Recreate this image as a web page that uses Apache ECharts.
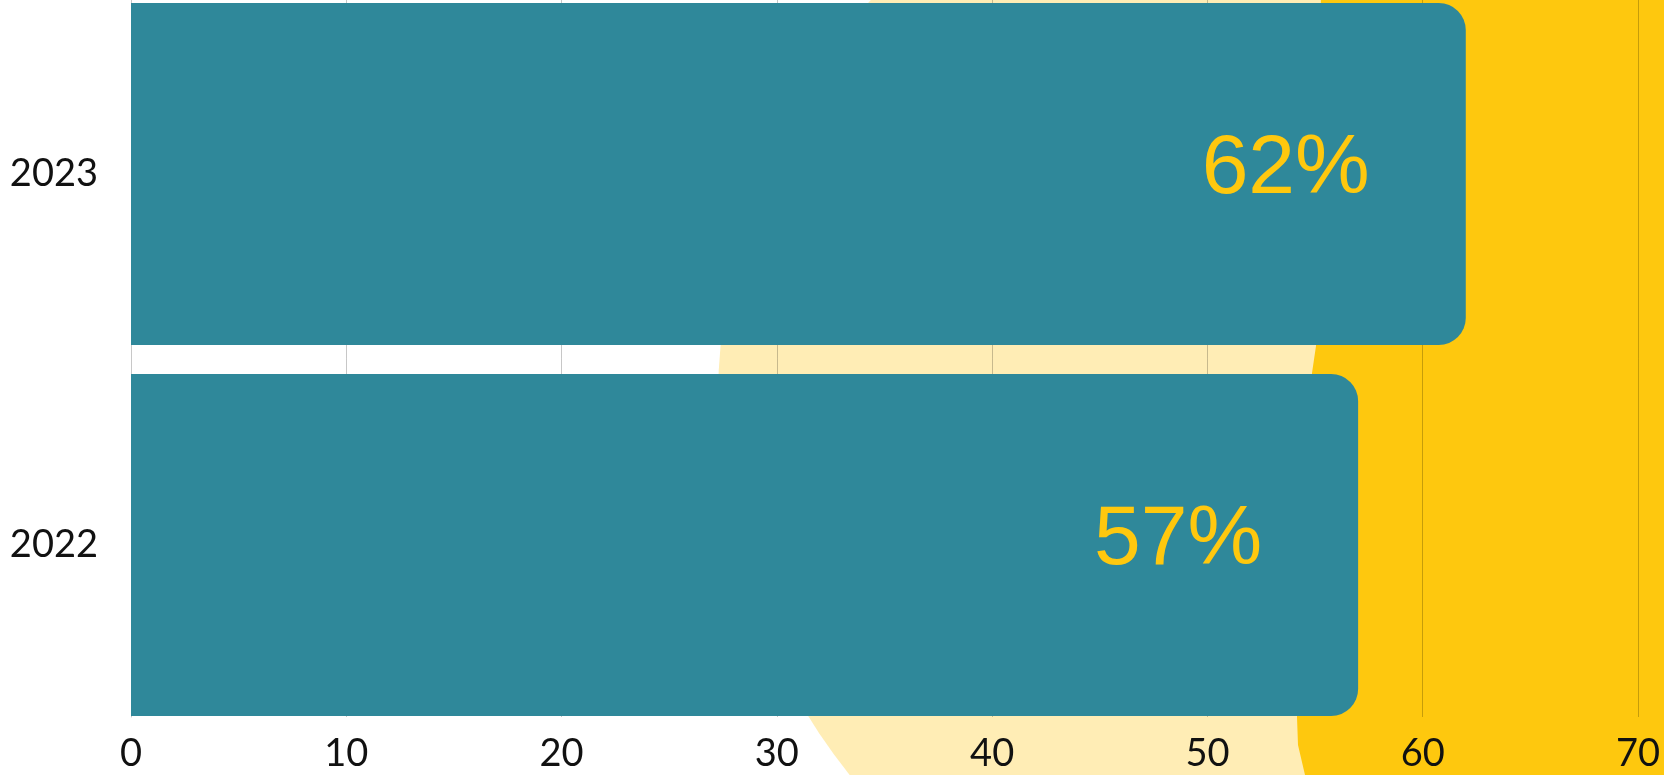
<!DOCTYPE html>
<html>
<head>
<meta charset="utf-8">
<script src="https://cdn.jsdelivr.net/npm/echarts@6/dist/echarts.min.js"></script>
<style>
html,body{margin:0;padding:0;background:#fff;}
#chart{width:1664px;height:775px;}
</style>
</head>
<body>
<div id="chart"></div>
<script>
const categories = ['2022', '2023'];
const values = [57, 62];
const xMin = 0;
const xMax = 70;
const xInterval = 10;

const chart = echarts.init(document.getElementById('chart'));
const option = {
  animation: false,
  backgroundColor: '#ffffff',
  graphic: {
    elements: [
      { type: 'circle', z: -10, silent: true,
        shape: { cx: 1318, cy: 400, r: 600 },
        style: { fill: '#FFEDB5' } },
      { type: 'polygon', z: -9, silent: true,
        shape: { points: [[1321,-10],[1319,150],[1316,346],[1312,373],[1308,480],[1302,620],[1297,717],[1298,745],[1305,775],[1306,790],[1700,790],[1700,-10]] },
        style: { fill: '#FEC80E' } }
    ]
  },
  grid: [
    { left: 131, right: 26, top: 0, height: 717, outerBoundsMode: 'none', containLabel: false },
    { left: 131, right: 26, top: -11.5, height: 742, outerBoundsMode: 'none', containLabel: false }
  ],
  xAxis: [
    { gridIndex: 0, type: 'value', min: xMin, max: xMax, interval: xInterval,
      axisLine: { show: false }, axisTick: { show: false },
      splitLine: { show: true, lineStyle: { color: 'rgba(0,0,0,0.22)', width: 1 } },
      axisLabel: { fontSize: 38, margin: 18, color: '#111', fontFamily: 'Lato' } },
    { gridIndex: 1, type: 'value', min: xMin, max: xMax, interval: xInterval, show: false,
      splitLine: { show: false } }
  ],
  yAxis: [
    { gridIndex: 0, type: 'category', data: categories,
      axisLine: { show: true, lineStyle: { color: '#c8c8c8', width: 1 } },
      axisTick: { show: false }, axisLabel: { show: false }, splitLine: { show: false } },
    { gridIndex: 1, type: 'category', data: categories,
      axisLine: { show: false }, axisTick: { show: false }, splitLine: { show: false },
      axisLabel: { fontSize: 38, margin: 33, color: '#111', fontFamily: 'Lato' } }
  ],
  series: [
    { type: 'bar', xAxisIndex: 1, yAxisIndex: 1, data: values, barWidth: 342,
      itemStyle: { color: '#2F889A', borderRadius: [0, 27, 27, 0] },
      label: { show: true, position: 'insideRight', distance: 96, offset: [0, -4],
        formatter: '{c}%', color: '#FFC80E', fontSize: 84, fontFamily: 'Liberation Sans' } }
  ]
};
chart.setOption(option);
</script>
</body>
</html>
